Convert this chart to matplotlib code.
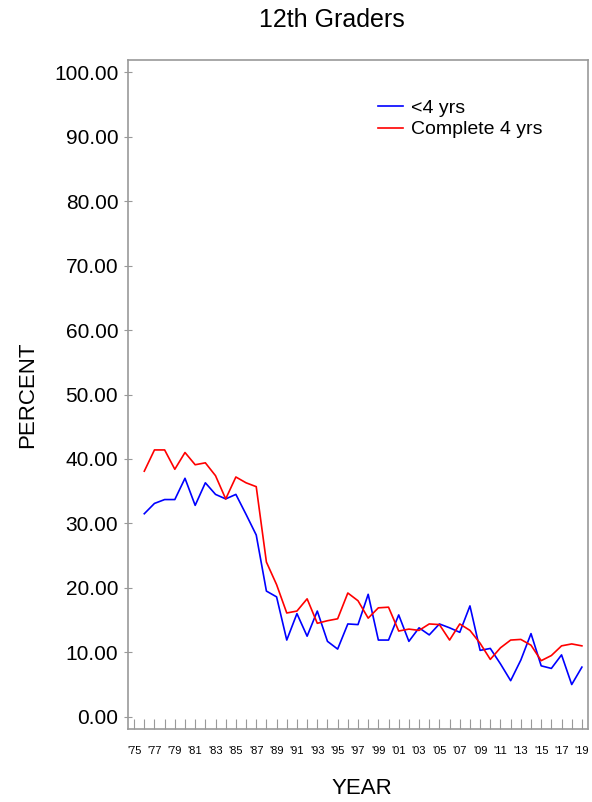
import matplotlib
matplotlib.use("Agg")
import matplotlib.pyplot as plt

years = list(range(1976, 2020))

less_than_4 = [31.5, 33.1, 33.7, 33.7, 37.0, 32.8, 36.3, 34.5, 33.8, 34.5,
               31.4, 28.2, 19.5, 18.6, 11.9, 16.0, 12.5, 16.4, 11.7, 10.5,
               14.4, 14.3, 19.0, 11.9, 11.9, 15.8, 11.7, 13.8, 12.7, 14.4,
               13.8, 13.1, 17.2, 10.3, 10.6, 8.2, 5.6, 8.8, 12.9, 7.9,
               7.5, 9.6, 5.0, 7.7]

complete_4 = [38.1, 41.4, 41.4, 38.4, 41.0, 39.1, 39.4, 37.4, 33.8, 37.2,
              36.3, 35.7, 24.0, 20.5, 16.1, 16.4, 18.3, 14.5, 14.9, 15.2,
              19.2, 18.0, 15.3, 16.9, 17.0, 13.3, 13.6, 13.4, 14.4, 14.3,
              11.9, 14.4, 13.4, 11.4, 8.9, 10.7, 11.9, 12.0, 11.1, 8.7,
              9.5, 11.0, 11.3, 11.0]

tick_years = list(range(1975, 2020))
label_years = list(range(1975, 2020, 2))
y_ticks = [0, 10, 20, 30, 40, 50, 60, 70, 80, 90, 100]

plt.rcParams['font.family'] = ['Liberation Sans', 'DejaVu Sans']

fig = plt.figure(figsize=(5.92, 8.02), dpi=100)
ax = fig.add_axes([128 / 592, 73 / 802, 460 / 592, 669 / 802])

ax.plot(years, less_than_4, color='#0000ff', linewidth=1.2, label='<4 yrs')
ax.plot(years, complete_4, color='#ff0000', linewidth=1.2, label='Complete 4 yrs')

ax.set_xlim(1974.4, 2019.6)
ax.set_ylim(-1.9, 101.9)

ax.set_yticks(y_ticks)
ax.set_yticklabels(["%.2f" % v for v in y_ticks], fontsize=15)
ax.set_xticks(tick_years)
ax.set_xticklabels(["'%02d" % (y % 100) if y in label_years else "" for y in tick_years],
                   fontsize=8)

ax.tick_params(axis='y', direction='inout', length=6, width=0.8, color='#999999', pad=4)
ax.tick_params(axis='x', direction='in', length=7, width=0.8, color='#999999', pad=12)

for s in ax.spines.values():
    s.set_color('#999999')
    s.set_linewidth(1.2)

ax.legend(loc='upper left', bbox_to_anchor=(0.505, 0.968), frameon=False,
          fontsize=14, handlelength=1.3, handletextpad=0.42, labelspacing=0.22)

fig.text(332 / 592, 1 - 20 / 802, "12th Graders", fontsize=18, ha='center', va='center')
fig.text(28 / 592, 1 - 395 / 802, "PERCENT", fontsize=16, rotation=90, ha='center', va='center')
fig.text(362 / 592, 1 - 788 / 802, "YEAR", fontsize=16, ha='center', va='center')

fig.savefig("out.png", dpi=100)
